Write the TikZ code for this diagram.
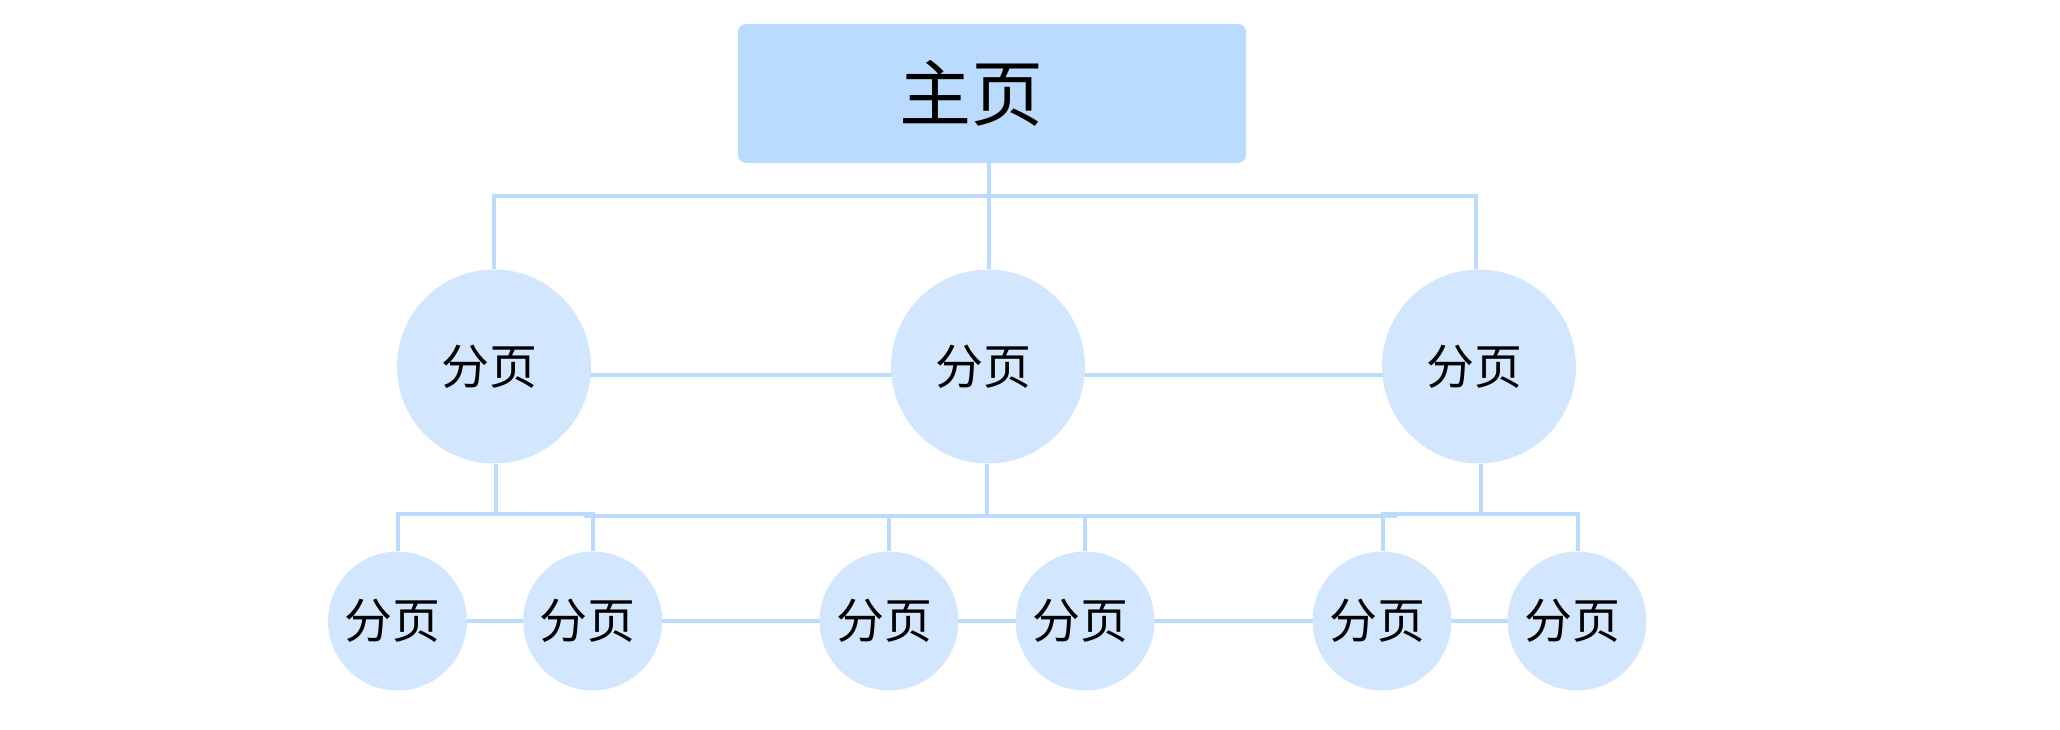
\documentclass[tikz,border=0pt]{standalone}
\usepackage{fontspec}
\newfontfamily\cjk{Noto Sans CJK SC}
\usetikzlibrary{backgrounds,calc}
\definecolor{boxblue}{HTML}{BBDBFE}
\definecolor{circblue}{HTML}{D2E7FE}
\definecolor{lineblue}{HTML}{BBDBFE}
\begin{document}
\begin{tikzpicture}[x=1pt,y=-1pt,
  conn/.style={draw=lineblue,line width=4pt},
  mainbox/.style={fill=boxblue,rounded corners=8pt,minimum width=508pt,minimum height=139pt,inner sep=0pt,font=\cjk\fontsize{72}{72}\selectfont},
  bigpage/.style={circle,fill=circblue,minimum size=194pt,inner sep=0pt,font=\cjk\fontsize{48}{48}\selectfont},
  smallpage/.style={circle,fill=circblue,minimum size=139pt,inner sep=0pt,font=\cjk\fontsize{48}{48}\selectfont}]
\useasboundingbox (0,0) rectangle (2060,730);
\node[mainbox] (home) at (992,93.5) {\kern-42pt 主页};
\node[bigpage] (pA) at (494,366.5) {\kern-10pt 分页};
\node[bigpage] (pB) at (988,366.5) {\kern-10pt 分页};
\node[bigpage] (pC) at (1479,366.5) {\kern-10pt 分页};
\node[smallpage] (s1) at (397.5,621) {\kern-10pt 分页};
\node[smallpage] (s2) at (592.7,621) {\kern-10pt 分页};
\node[smallpage] (s3) at (889,621) {\kern-10pt 分页};
\node[smallpage] (s4) at (1085,621) {\kern-10pt 分页};
\node[smallpage] (s5) at (1382,621) {\kern-10pt 分页};
\node[smallpage] (s6) at (1577,621) {\kern-10pt 分页};
\coordinate (topL) at (494,195.7);
\coordinate (topM) at (988.6,195.7);
\coordinate (topR) at (1476,195.7);
\coordinate (bL1) at (397.5,514);
\coordinate (bL2) at (592.7,514);
\coordinate (bLm) at (495.5,514);
\coordinate (bM1) at (584,516);
\coordinate (bM2) at (1397,516);
\coordinate (bMm) at (987,516);
\coordinate (bR1) at (1383,514);
\coordinate (bR2) at (1578,514);
\coordinate (bRm) at (1481,514);
\begin{scope}[on background layer]
\draw[conn] (topM |- home.south) -- (topM);
\draw[conn,line cap=rect] (topL) -- (topR);
\draw[conn] (topL) -- (topL |- pA.north);
\draw[conn] (topM) -- (topM |- pB.north);
\draw[conn] (topR) -- (topR |- pC.north);
\draw[conn] ([yshift=-8pt]pA.center) -- ([yshift=-8pt]pB.center);
\draw[conn] ([yshift=-8pt]pB.center) -- ([yshift=-8pt]pC.center);
\draw[conn] (bLm |- pA.south) -- (bLm);
\draw[conn] (bMm |- pB.south) -- (bMm);
\draw[conn] (bRm |- pC.south) -- (bRm);
\draw[conn,line cap=rect] (bL1) -- (bL2);
\draw[conn] (bM1) -- (bM2);
\draw[conn,line cap=rect] (bR1) -- (bR2);
\draw[conn] (bL1) -- (bL1 |- s1.north);
\draw[conn] (bL2) -- (bL2 |- s2.north);
\draw[conn] (s3.north |- bM1) -- (s3.north);
\draw[conn] (s4.north |- bM1) -- (s4.north);
\draw[conn] (bR1) -- (bR1 |- s5.north);
\draw[conn] (bR2) -- (bR2 |- s6.north);
\draw[conn] (s1.center) -- (s2.center);
\draw[conn] (s2.center) -- (s3.center);
\draw[conn] (s3.center) -- (s4.center);
\draw[conn] (s4.center) -- (s5.center);
\draw[conn] (s5.center) -- (s6.center);
\end{scope}
\end{tikzpicture}
\end{document}
